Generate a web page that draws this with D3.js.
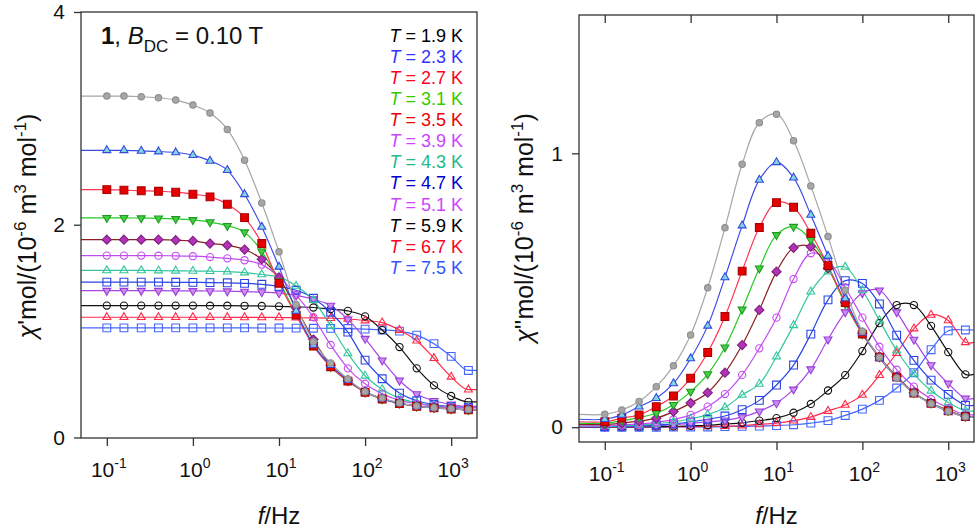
<!DOCTYPE html>
<html><head><meta charset="utf-8">
<script src="https://cdn.jsdelivr.net/npm/d3@7"></script>
<style>body{margin:0;background:#fff}svg{font-family:Arial,"Liberation Sans",sans-serif}</style>
</head><body><svg id="c" width="979" height="531"></svg>
<script>
// ---------- data ----------
const freqHz = [0.1,0.158,0.251,0.398,0.631,1,1.58,2.51,3.98,6.31,10,15.8,25.1,39.8,63.1,100,158,251,398,631,1000,1585];
const temps = ["1.9","2.3","2.7","3.1","3.5","3.9","4.3","4.7","5.1","5.9","6.7","7.5"];
const xTicks = [0.1,1,10,100,1000];
const xTickExp = ["-1","0","1","2","3"];
const yTicksLeft = [0,2,4];
const yTicksRight = [0,1];

// chi' (left panel)
const chiP_19 = [3.21,3.21,3.203,3.194,3.172,3.125,3.05,2.896,2.607,2.205,1.745,1.25,0.90,0.70,0.55,0.43,0.37,0.325,0.295,0.28,0.27,0.262];
const chiP_23 = [2.70,2.70,2.694,2.688,2.679,2.654,2.60,2.513,2.286,1.979,1.604,1.19,0.87,0.68,0.54,0.43,0.365,0.322,0.295,0.28,0.27,0.262];
const chiP_27 = [2.33,2.325,2.319,2.315,2.306,2.287,2.262,2.193,2.067,1.823,1.45,1.15,0.86,0.665,0.53,0.425,0.362,0.32,0.293,0.278,0.268,0.26];
const chiP_31 = [2.065,2.065,2.062,2.06,2.055,2.045,2.025,1.99,1.93,1.75,1.47,1.16,0.87,0.665,0.53,0.425,0.362,0.32,0.293,0.278,0.268,0.26];
const chiP_35 = [1.86,1.86,1.86,1.86,1.855,1.848,1.823,1.807,1.767,1.676,1.50,1.22,0.92,0.68,0.535,0.43,0.365,0.322,0.295,0.28,0.27,0.262];
const chiP_39 = [1.71,1.71,1.71,1.709,1.708,1.704,1.696,1.684,1.666,1.625,1.51,1.34,1.13,0.87,0.65,0.505,0.41,0.35,0.315,0.295,0.285,0.278];
const chiP_43 = [1.57,1.57,1.57,1.569,1.567,1.565,1.563,1.559,1.55,1.532,1.51,1.424,1.29,1.05,0.79,0.58,0.452,0.37,0.325,0.30,0.287,0.28];
const chiP_47 = [1.46,1.46,1.46,1.46,1.459,1.458,1.456,1.454,1.449,1.44,1.421,1.384,1.309,1.177,0.99,0.727,0.552,0.417,0.345,0.31,0.292,0.283];
const chiP_51 = [1.38,1.38,1.38,1.38,1.379,1.378,1.377,1.375,1.372,1.367,1.357,1.336,1.30,1.24,1.11,0.929,0.725,0.536,0.408,0.345,0.311,0.292];
const chiP_59 = [1.24,1.24,1.24,1.24,1.24,1.24,1.239,1.239,1.238,1.236,1.233,1.228,1.222,1.206,1.19,1.139,1.01,0.85,0.65,0.49,0.39,0.335];
const chiP_67 = [1.13,1.13,1.13,1.13,1.13,1.13,1.13,1.13,1.129,1.129,1.128,1.126,1.124,1.121,1.114,1.099,1.08,1.01,0.91,0.745,0.57,0.449];
const chiP_75 = [1.03,1.03,1.03,1.03,1.03,1.03,1.03,1.03,1.03,1.029,1.029,1.028,1.027,1.026,1.024,1.019,1.011,1.0,0.962,0.882,0.762,0.63];

// chi'' (right panel)
const chiPP_19 = [0.047,0.063,0.094,0.148,0.224,0.337,0.509,0.728,0.96,1.112,1.143,1.046,0.881,0.696,0.50,0.35,0.255,0.18,0.124,0.086,0.058,0.038];
const chiPP_23 = [0.029,0.045,0.075,0.106,0.160,0.251,0.370,0.547,0.736,0.903,0.967,0.911,0.775,0.625,0.47,0.345,0.252,0.18,0.124,0.086,0.058,0.038];
const chiPP_27 = [0.020,0.033,0.045,0.075,0.114,0.179,0.273,0.404,0.57,0.729,0.82,0.803,0.708,0.59,0.455,0.34,0.256,0.183,0.125,0.087,0.06,0.039];
const chiPP_31 = [0.015,0.024,0.035,0.051,0.082,0.13,0.194,0.292,0.43,0.58,0.702,0.732,0.684,0.585,0.45,0.34,0.256,0.184,0.126,0.088,0.061,0.039];
const chiPP_35 = [0.010,0.015,0.022,0.033,0.057,0.088,0.126,0.199,0.30,0.428,0.568,0.655,0.659,0.58,0.455,0.343,0.258,0.185,0.126,0.088,0.061,0.04];
const chiPP_39 = [0.005,0.008,0.012,0.018,0.028,0.045,0.075,0.121,0.191,0.288,0.40,0.541,0.635,0.61,0.51,0.40,0.294,0.21,0.148,0.103,0.07,0.046];
const chiPP_43 = [0.003,0.005,0.008,0.012,0.02,0.03,0.046,0.072,0.118,0.158,0.258,0.372,0.495,0.568,0.585,0.50,0.39,0.28,0.195,0.133,0.09,0.06];
const chiPP_47 = [0.002,0.003,0.005,0.008,0.012,0.019,0.029,0.041,0.064,0.098,0.154,0.227,0.34,0.465,0.535,0.525,0.45,0.336,0.244,0.172,0.12,0.08];
const chiPP_51 = [0.002,0.002,0.004,0.006,0.009,0.014,0.02,0.025,0.037,0.058,0.088,0.138,0.212,0.321,0.42,0.49,0.50,0.42,0.32,0.227,0.16,0.105];
const chiPP_59 = [0.001,0.001,0.001,0.002,0.003,0.005,0.007,0.011,0.016,0.024,0.033,0.053,0.085,0.134,0.19,0.278,0.38,0.446,0.446,0.37,0.274,0.193];
const chiPP_67 = [0,0.001,0.001,0.001,0.002,0.002,0.003,0.004,0.006,0.01,0.015,0.024,0.037,0.059,0.081,0.118,0.19,0.27,0.36,0.41,0.39,0.31];
const chiPP_75 = [0,0,0,0,0.001,0.001,0.001,0.002,0.003,0.004,0.006,0.009,0.015,0.024,0.043,0.066,0.098,0.143,0.199,0.283,0.352,0.355];

const chiPSeries = [chiP_19,chiP_23,chiP_27,chiP_31,chiP_35,chiP_39,chiP_43,chiP_47,chiP_51,chiP_59,chiP_67,chiP_75];
const chiPPSeries = [chiPP_19,chiPP_23,chiPP_27,chiPP_31,chiPP_35,chiPP_39,chiPP_43,chiPP_47,chiPP_51,chiPP_59,chiPP_67,chiPP_75];

// ---------- styles ----------
const styles = [
  {shape:"circle", r:3.2, line:"#a6a6a6", stroke:"#8e8e8e", fill:"#a6a6a6", legend:"#000000"},
  {shape:"triUp",  r:4.6, line:"#3b4de6", stroke:"#3447e0", fill:"#7fd6e0", legend:"#3333ff"},
  {shape:"square", r:3.9, line:"#ff3355", stroke:"#a80000", fill:"#e60000", legend:"#ff0022"},
  {shape:"triDown",r:4.6, line:"#22cc22", stroke:"#1f9a1f", fill:"#44d044", legend:"#33cc00"},
  {shape:"diamond",r:4.6, line:"#8a1f1f", stroke:"#7d1f7d", fill:"#b233b8", legend:"#ee0000"},
  {shape:"circle", r:3.6, line:"#c24cf0", stroke:"#c24cf0", fill:"none", legend:"#cc44ff"},
  {shape:"triUp",  r:4.6, line:"#33c69e", stroke:"#33c69e", fill:"none", legend:"#22bb88"},
  {shape:"square", r:3.9, line:"#2a44e6", stroke:"#2a44e6", fill:"none", legend:"#0000cc"},
  {shape:"triDown",r:4.6, line:"#a845e6", stroke:"#9a3cd8", fill:"#c890f0", legend:"#cc44ff"},
  {shape:"circle", r:3.6, line:"#111111", stroke:"#111111", fill:"none", legend:"#000000"},
  {shape:"triUp",  r:4.6, line:"#ff2a4a", stroke:"#ff2a4a", fill:"none", legend:"#ff0022"},
  {shape:"square", r:3.9, line:"#4466ff", stroke:"#4466ff", fill:"none", legend:"#3355ff"}
];

function markerPath(shape, r){
  if(shape==="circle") return d3.symbol(d3.symbolCircle, Math.PI*r*r)();
  if(shape==="square") return `M${-r},${-r}H${r}V${r}H${-r}Z`;
  if(shape==="diamond") return `M0,${-r}L${r},0L0,${r}L${-r},0Z`;
  const h = r*0.866;
  if(shape==="triUp") return `M0,${-r}L${h},${r*0.5}L${-h},${r*0.5}Z`;
  if(shape==="triDown") return `M0,${r}L${h},${-r*0.5}L${-h},${-r*0.5}Z`;
}

const svg = d3.select("#c");
const fDomain = [Math.pow(10,-1.3), Math.pow(10,3.3)];

function drawPanel(cfg){
  const x = d3.scaleLog().domain(fDomain).range([cfg.x0, cfg.x1]);
  const y = d3.scaleLinear().domain(cfg.yDomain).range([cfg.yb, cfg.yt]);
  const g = svg.append("g");
  const clipId = "clip"+cfg.id;
  svg.append("clipPath").attr("id",clipId).append("rect")
    .attr("x",cfg.x0).attr("y",cfg.yt).attr("width",cfg.x1-cfg.x0).attr("height",cfg.yb-cfg.yt);

  const plot = g.append("g").attr("clip-path",`url(#${clipId})`);
  const line = d3.line().x(d=>x(d[0])).y(d=>y(d[1])).curve(cfg.curve);
  const order = d3.range(cfg.series.length).reverse();
  order.forEach(i=>{
    const vals = cfg.series[i];
    const pts = freqHz.map((f,k)=>[f, vals[k]]);
    const ext = [[fDomain[0], vals[0]], ...pts, [fDomain[1], vals[vals.length-1]]];
    plot.append("path").attr("d", line(ext)).attr("fill","none")
      .attr("stroke", styles[i].line).attr("stroke-width",1.2);
  });
  order.forEach(i=>{
    const st = styles[i];
    const vals = cfg.series[i];
    plot.append("g").selectAll("path").data(freqHz.map((f,k)=>[f, vals[k]])).join("path")
      .attr("transform", d=>`translate(${x(d[0])},${y(d[1])})`)
      .attr("d", markerPath(st.shape, st.r))
      .attr("fill", st.fill).attr("stroke", st.stroke).attr("stroke-width",1.1);
  });

  // frame
  g.append("rect").attr("x",cfg.x0).attr("y",cfg.yt).attr("width",cfg.x1-cfg.x0).attr("height",cfg.yb-cfg.yt)
    .attr("fill","none").attr("stroke","#333").attr("stroke-width",1.3);

  // bottom axis
  const ax = g.append("g").attr("transform",`translate(0,${cfg.yb})`)
    .call(d3.axisBottom(x).tickValues(xTicks).tickSize(8).tickFormat(""));
  ax.select(".domain").remove();
  ax.selectAll("line").attr("stroke","#333").attr("stroke-width",1.3);
  if(cfg.topTicks){
    const at = g.append("g").attr("transform",`translate(0,${cfg.yt})`)
      .call(d3.axisTop(x).tickValues(xTicks).tickSize(-8).tickFormat(""));
    at.select(".domain").remove();
    at.selectAll("line").attr("stroke","#333").attr("stroke-width",1.3);
  }
  xTicks.forEach((t,k)=>{
    const tx = g.append("text").attr("x", x(t)+2).attr("y", cfg.yb+39)
      .attr("text-anchor","middle").attr("font-size",21).attr("fill","#111");
    tx.append("tspan").text("10");
    tx.append("tspan").attr("dy",-9).attr("font-size",14).text(xTickExp[k]);
  });
  // left axis
  const ay = g.append("g").attr("transform",`translate(${cfg.x0},0)`)
    .call(d3.axisLeft(y).tickValues(cfg.yTicks).tickSize(7).tickPadding(9).tickFormat(d3.format("d")));
  ay.select(".domain").remove();
  ay.selectAll("line").attr("stroke","#333").attr("stroke-width",1.3);
  ay.selectAll("text").attr("font-size",21).attr("fill","#111").attr("font-family","Arial,'Liberation Sans',sans-serif");

  // x title
  const xt = g.append("text").attr("x",(cfg.x0+cfg.x1)/2).attr("y",cfg.xTitleY)
    .attr("text-anchor","middle").attr("font-size",24).attr("fill","#111");
  xt.append("tspan").attr("font-style","italic").text("f");
  xt.append("tspan").text("/Hz");

  // y title
  const yt = g.append("text").attr("transform",`translate(${cfg.yTitleX},${cfg.yTitleY}) rotate(-90)`)
    .attr("text-anchor","middle").attr("font-size",25).attr("fill","#111");
  yt.append("tspan").attr("font-style","italic").text("χ");
  yt.append("tspan").text(cfg.prime+"mol/(10");
  yt.append("tspan").attr("dy",-10).attr("font-size",17).text("-6");
  yt.append("tspan").attr("dy",10).text(" m");
  yt.append("tspan").attr("dy",-10).attr("font-size",17).text("3");
  yt.append("tspan").attr("dy",10).text(" mol");
  yt.append("tspan").attr("dy",-10).attr("font-size",17).text("-1");
  yt.append("tspan").attr("dy",10).text(")");
  return {x,y,g};
}

const L = drawPanel({id:"L", x0:81, x1:477, yt:12, yb:438, yDomain:[-0.005,4], yTicks:yTicksLeft,
  series:chiPSeries, curve:d3.curveMonotoneX, topTicks:false, xTitleY:524, yTitleX:36, yTitleY:226, prime:"'"});
const R = drawPanel({id:"R", x0:579, x1:974, yt:15, yb:442, yDomain:[-0.054,1.505], yTicks:yTicksRight,
  series:chiPPSeries, curve:d3.curveCatmullRom.alpha(0.5), topTicks:true, xTitleY:524, yTitleX:533, yTitleY:228, prime:"''"});

// title in left panel
const title = svg.append("text").attr("x",101).attr("y",44).attr("font-size",24).attr("fill","#111");
title.append("tspan").attr("font-weight","bold").text("1");
title.append("tspan").text(", ");
title.append("tspan").attr("font-style","italic").text("B");
title.append("tspan").attr("dy",8).attr("font-size",17).text("DC");
title.append("tspan").attr("dy",-8).text(" = 0.10 T");

// legend
temps.forEach((t,i)=>{
  const tx = svg.append("text").attr("x",463).attr("y",41.7+21.1*i).attr("text-anchor","end")
    .attr("font-size",18).attr("fill",styles[i].legend);
  tx.append("tspan").attr("font-style","italic").text("T");
  tx.append("tspan").text(` = ${t} K`);
});
</script></body></html>
